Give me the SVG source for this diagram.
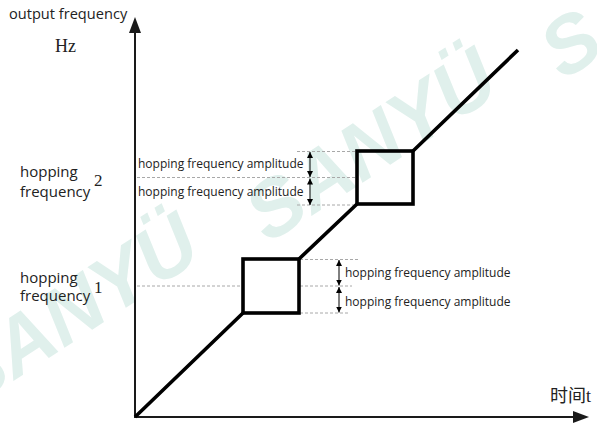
<svg xmlns="http://www.w3.org/2000/svg" width="597" height="423" viewBox="0 0 597 423">
<style>
.wm{font-family:"Liberation Sans",Arial,sans-serif;font-size:80px;font-weight:bold;font-style:italic;fill:#e0f0ec}
.lbl{font-family:"Open Sans","Noto Sans",sans-serif;fill:#222}
.amp{font-size:12px}
.big{font-size:14.6px}
.ser{font-family:"Liberation Serif","Noto Sans CJK SC",serif;fill:#222}
.axis{stroke:#1a1a1a;stroke-width:2;fill:none}
.curve{stroke:#000;stroke-width:3.6;fill:none;stroke-linejoin:miter}
.dash{stroke:#a8a8a8;stroke-width:1;stroke-dasharray:3 2;fill:none}
.amparrow{stroke:#000;stroke-width:1;fill:none;marker-start:url(#ah);marker-end:url(#ah)}
</style>
<defs>
<marker id="ah" viewBox="0 0 10 10" refX="10" refY="5" markerWidth="6" markerHeight="6" markerUnits="userSpaceOnUse" orient="auto-start-reverse">
<path d="M0,0 L10,5 L0,10 z" fill="#000"/>
</marker>
</defs>
<rect width="597" height="423" fill="#fff"/>
<g id="watermark">
<text class="wm" transform="translate(-30,409) rotate(-33)">SANYÜ</text>
<text class="wm" transform="translate(268,244) rotate(-33)">SANYÜ</text>
<text class="wm" transform="translate(563,81) rotate(-33)">SANYÜ</text>
</g>
<g id="guides">
<path class="dash" d="M297,151.5 H356 M137,177.5 H356 M297,205 H356"/>
<path class="dash" d="M300,259.5 H360 M137,286 H243 M300,286 H352 M300,313 H350"/>
</g>
<g id="connectors">
<line class="axis" x1="135" y1="418" x2="135" y2="32"/>
<polygon points="135,17 129,33 141,33" fill="#1a1a1a"/>
<line class="axis" x1="134" y1="417" x2="574" y2="417"/>
<polygon points="589,417 573,411 573,423" fill="#1a1a1a"/>
<path class="curve" d="M135,417 L243,313 M299,259 L357,204 M413,151 L518,50"/>
<line class="amparrow" x1="310" y1="152" x2="310" y2="177"/>
<line class="amparrow" x1="310" y1="178.5" x2="310" y2="205"/>
<line class="amparrow" x1="339" y1="260" x2="339" y2="285.5"/>
<line class="amparrow" x1="339" y1="287" x2="339" y2="312.5"/>
</g>
<g id="box1">
<rect class="curve" x="243" y="259" width="56" height="54"/>
</g>
<g id="box2">
<rect class="curve" x="357" y="151" width="56" height="53"/>
</g>
<g id="y-axis-label">
<text class="lbl big" x="9" y="19">output frequency</text>
<text class="ser" x="55" y="52" font-size="18">Hz</text>
</g>
<g id="x-axis-label">
<text class="ser" x="550" y="402" font-size="18">时间t</text>
</g>
<g id="hop2-label">
<text class="lbl" x="20" y="177" font-size="15">hopping</text>
<text class="lbl" x="20" y="197" font-size="15">frequency</text>
<text class="ser" x="94" y="186" font-size="17">2</text>
</g>
<g id="hop1-label">
<text class="lbl" x="20" y="283" font-size="15">hopping</text>
<text class="lbl" x="20" y="301" font-size="15">frequency</text>
<text class="ser" x="94" y="293" font-size="17">1</text>
</g>
<g id="amp2-labels">
<text class="lbl amp" x="138" y="168">hopping frequency amplitude</text>
<text class="lbl amp" x="138" y="196">hopping frequency amplitude</text>
</g>
<g id="amp1-labels">
<text class="lbl amp" x="345" y="277">hopping frequency amplitude</text>
<text class="lbl amp" x="345" y="306">hopping frequency amplitude</text>
</g>
</svg>
